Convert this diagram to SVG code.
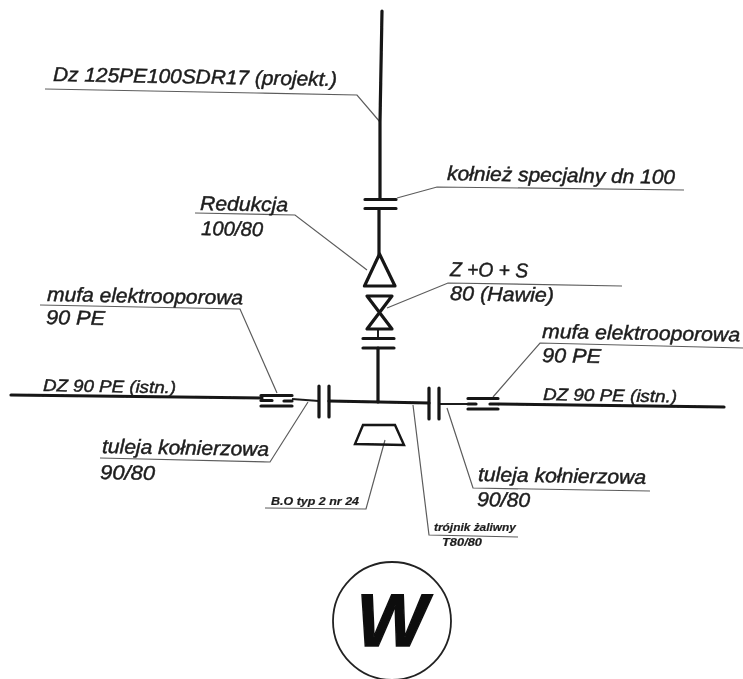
<svg xmlns="http://www.w3.org/2000/svg" width="743" height="679" viewBox="0 0 743 679">
<defs><filter id="soft" x="-5%" y="-5%" width="110%" height="110%"><feGaussianBlur stdDeviation="0.55"/></filter></defs>
<style>
.pipe{fill:none;stroke:#141414;stroke-width:3.2;stroke-linecap:round;stroke-linejoin:round}
.thin{fill:none;stroke:#1c1c1c;stroke-width:2}
.lead{fill:none;stroke:#5c5c5c;stroke-width:1.2}
.t{font-family:"Liberation Sans",Arial,sans-serif;font-style:italic;fill:#1e1e1e;stroke:#1e1e1e;stroke-width:.45;font-size:20px}
.s{font-size:10.500px;font-weight:bold;stroke-width:.2}
</style>
<rect width="743" height="679" fill="#fff"/>
<g filter="url(#soft)">
<g id="connectors">
<path class="lead" d="M45 89L256 93L357 95L380 122"/>
<path class="lead" d="M397 198L437 187L684 190"/>
<path class="lead" d="M195 213L295 215L367 270"/>
<path class="lead" d="M387 308L448 283L622 286"/>
<path class="lead" d="M40 305L240 309L277 393"/>
<path class="lead" d="M493 397L540 343L743 348"/>
<path class="lead" d="M100 458L270 462L308 402"/>
<path class="lead" d="M447 408L473 488L650 491"/>
<path class="lead" d="M265 508L366 509L385 440"/>
<path class="lead" d="M413 405L429 535L518 537"/>
</g>
<g id="pipe-vertical">
<path class="pipe" d="M382 11L380 122L380 199M379 209L379 254M378 348L378 402"/>
<path class="thin" d="M378 329V338"/>
</g>
<g id="pipe-left"><path class="pipe" d="M11 395L262 398"/><path class="thin" d="M292 399L319 401"/></g>
<g id="pipe-mid"><path class="pipe" d="M329 401L429 403"/></g>
<g id="pipe-right"><path class="thin" d="M439 404L467 404"/><path class="pipe" d="M499 404L724 407"/></g>
<g id="flange-top"><path class="pipe" d="M365 199.500H396M365 208.500H396"/></g>
<g id="reducer"><path class="pipe" d="M379.500 254L364.500 286H395Z"/></g>
<g id="valve"><path class="pipe" d="M367 296H392L367 329H392Z"/></g>
<g id="flange-lower"><path class="pipe" d="M363 338.500H394M363 348H394"/></g>
<g id="muff-left"><path class="pipe" d="M261 395.500H292M261 406H292"/><path class="pipe" d="M261 400.500H272M284 401H292"/></g>
<g id="muff-right"><path class="pipe" d="M468 398.500H498M468 409H498"/><path class="pipe" d="M468 404H476M490 404H498"/></g>
<g id="flange-left"><path class="pipe" d="M319 386V417M329 386V417"/></g>
<g id="flange-right"><path class="pipe" d="M429 388V419M439 388V419"/></g>
<g id="trapezoid"><path d="M363 425H395L404 445L355 444Z" fill="none" stroke="#141414" stroke-width="2.400"/></g>
<g id="labels">
<text class="t" x="53" y="81" transform="rotate(1 53 81)" textLength="284" lengthAdjust="spacingAndGlyphs">Dz 125PE100SDR17 (projekt.)</text>
<text class="t" x="447" y="180" transform="rotate(1 447 180)" textLength="228" lengthAdjust="spacingAndGlyphs">kołnież specjalny dn 100</text>
<text class="t" x="200" y="210" transform="rotate(1 200 210)" textLength="88" lengthAdjust="spacingAndGlyphs">Redukcja</text>
<text class="t" x="201" y="235" transform="rotate(1 201 235)" textLength="62" lengthAdjust="spacingAndGlyphs">100/80</text>
<text class="t" x="450" y="276" transform="rotate(1 450 276)" textLength="78" lengthAdjust="spacingAndGlyphs">Z +O + S</text>
<text class="t" x="450" y="300" transform="rotate(1 450 300)" textLength="104" lengthAdjust="spacingAndGlyphs">80 (Hawie)</text>
<text class="t" x="47" y="301" transform="rotate(1 47 301)" textLength="196" lengthAdjust="spacingAndGlyphs">mufa elektrooporowa</text>
<text class="t" x="46" y="324" transform="rotate(1 46 324)" textLength="59" lengthAdjust="spacingAndGlyphs">90 PE</text>
<text class="t" x="542" y="338" transform="rotate(1 542 338)" textLength="198" lengthAdjust="spacingAndGlyphs">mufa elektrooporowa</text>
<text class="t" x="542" y="362" transform="rotate(1 542 362)" textLength="59" lengthAdjust="spacingAndGlyphs">90 PE</text>
<text class="t" x="43" y="391" transform="rotate(1 43 391)" style="font-size:17px" textLength="133" lengthAdjust="spacingAndGlyphs">DZ 90 PE (istn.)</text>
<text class="t" x="543" y="400" transform="rotate(1 543 400)" style="font-size:17px" textLength="134" lengthAdjust="spacingAndGlyphs">DZ 90 PE (istn.)</text>
<text class="t" x="102" y="453" transform="rotate(1 102 453)" textLength="167" lengthAdjust="spacingAndGlyphs">tuleja kołnierzowa</text>
<text class="t" x="100" y="479" transform="rotate(1 100 479)" textLength="55" lengthAdjust="spacingAndGlyphs">90/80</text>
<text class="t" x="478" y="481" transform="rotate(1 478 481)" textLength="168" lengthAdjust="spacingAndGlyphs">tuleja kołnierzowa</text>
<text class="t" x="477" y="506" transform="rotate(1 477 506)" textLength="53" lengthAdjust="spacingAndGlyphs">90/80</text>
<text class="t s" x="271" y="505" textLength="88" lengthAdjust="spacingAndGlyphs">B.O typ 2 nr 24</text>
<text class="t s" x="434" y="531" textLength="82" lengthAdjust="spacingAndGlyphs">trójnik żaliwny</text>
<text class="t s" x="442" y="546" textLength="40" lengthAdjust="spacingAndGlyphs">T80/80</text>
</g>
<g id="marker-w">
<circle cx="392" cy="621" r="59" fill="#fff" stroke="#222" stroke-width="1.800"/>
<text x="392" y="646" text-anchor="middle" font-family="Liberation Sans,Arial,sans-serif" font-style="italic" font-weight="bold" font-size="75" fill="#111" stroke="#111" stroke-width="1.500">W</text>
</g>
</g>
</svg>
